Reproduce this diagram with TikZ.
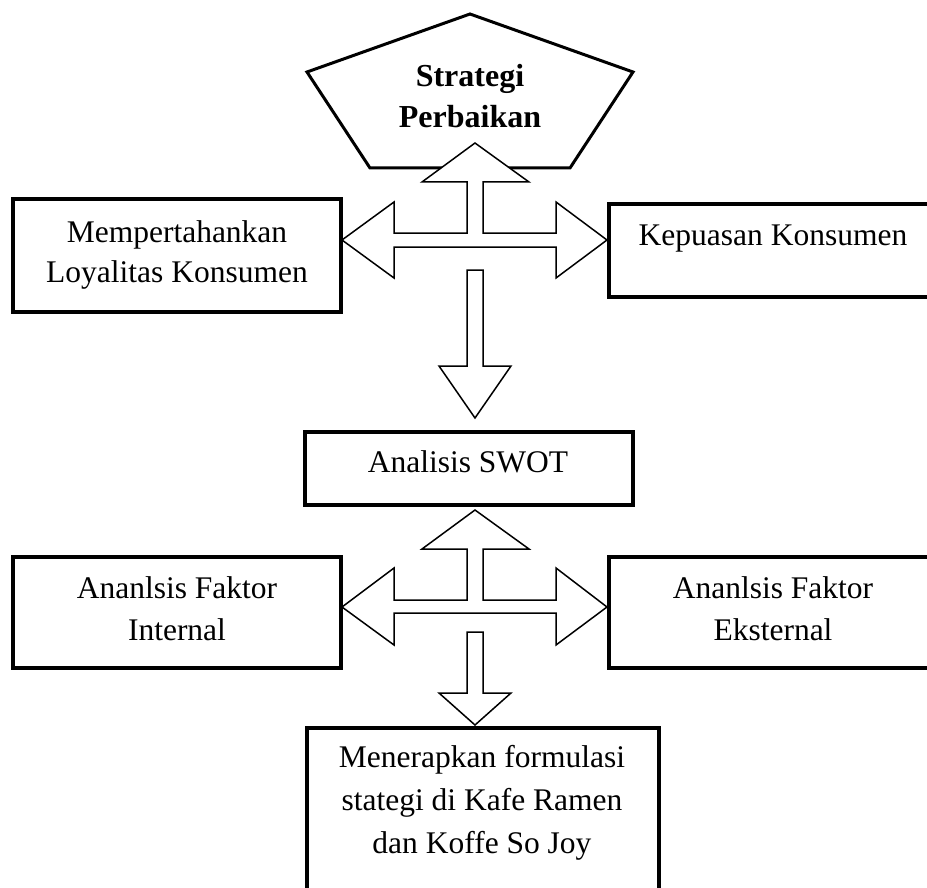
\documentclass[tikz,border=0pt]{standalone}
\usepackage{fontspec}
\setmainfont{Liberation Serif}
\newcommand\mltext[2]{\vtop{\baselineskip=#1\relax\lineskiplimit=-100pt\halign{\hfil##\hfil\cr#2\crcr}}}
\tikzset{
  box/.style={draw, line width=4pt, inner sep=0pt},
  pent/.style={draw, line width=3pt, line join=miter},
  blockarrow/.style={draw, fill=white, line width=1.5pt, line join=miter},
  lbl/.style={anchor=base, inner sep=0pt, font=\fontsize{31.5}{40}\selectfont},
  blbl/.style={lbl, font=\fontsize{32}{41}\selectfont\bfseries}
}
\begin{document}
\begin{tikzpicture}[x=1pt, y=-1pt]
\useasboundingbox (0,0) rectangle (927,888);
\clip (0,0) rectangle (927,888);
% pentagon
\draw[pent] (470,14) coordinate (ptop) -- (633,72) -- (570,168) -- (370,168) -- (307,72) -- cycle;
% boxes
\node[box, minimum width=328pt, minimum height=113pt] (mlk) at (177,255.5) {};
\node[box, minimum width=328pt, minimum height=93pt] (kk) at (773,250.5) {};
\node[box, minimum width=328pt, minimum height=73pt] (swot) at (469,468.5) {};
\node[box, minimum width=328pt, minimum height=111pt] (afi) at (177,612.5) {};
\node[box, minimum width=328pt, minimum height=111pt] (afe) at (773,612.5) {};
\node[box, minimum width=352pt, minimum height=180pt] (mfs) at (483,818) {};
% upper cross arrow
\draw[blockarrow] (475,143) -- (529,182) -- (483,182) -- (483,233) -- (556,233) -- (556,202)
  -- (607,240) -- (556,278) -- (556,247) -- (394,247) -- (394,278) -- (342,240)
  -- (394,202) -- (394,233) -- (467,233) -- (467,182) -- (422,182) -- cycle;
% down arrow 1
\draw[blockarrow] (467,270) -- (483,270) -- (483,366) -- (511,366) -- (475,418)
  -- (439,366) -- (467,366) -- cycle;
% lower cross arrow
\draw[blockarrow] (475,510) -- (529,549) -- (483,549) -- (483,600) -- (556,600) -- (556,568)
  -- (607,607) -- (556,645) -- (556,613) -- (394,613) -- (394,645) -- (342,607)
  -- (394,568) -- (394,600) -- (467,600) -- (467,549) -- (422,549) -- cycle;
% down arrow 2
\draw[blockarrow] (467,632) -- (483,632) -- (483,693) -- (511,693) -- (475,725)
  -- (439,693) -- (467,693) -- cycle;
% labels
\node[blbl] (tsp) at (470,87) {\mltext{41pt}{Strategi\cr Perbaikan}};
\node[lbl] (tmlk) at (177,242) {\mltext{40pt}{Mempertahankan\cr Loyalitas Konsumen}};
\node[lbl] (tkk) at (773,245) {Kepuasan Konsumen};
\node[lbl] (tswot) at (468,472) {Analisis SWOT};
\node[lbl] (tafi) at (177,598) {\mltext{42pt}{Ananlsis Faktor\cr Internal}};
\node[lbl] (tafe) at (773,598) {\mltext{42pt}{Ananlsis Faktor\cr Eksternal}};
\node[lbl] (tmfs) at (482,767) {\mltext{43pt}{Menerapkan formulasi\cr stategi di Kafe Ramen\cr dan Koffe So Joy}};
\end{tikzpicture}
\end{document}
